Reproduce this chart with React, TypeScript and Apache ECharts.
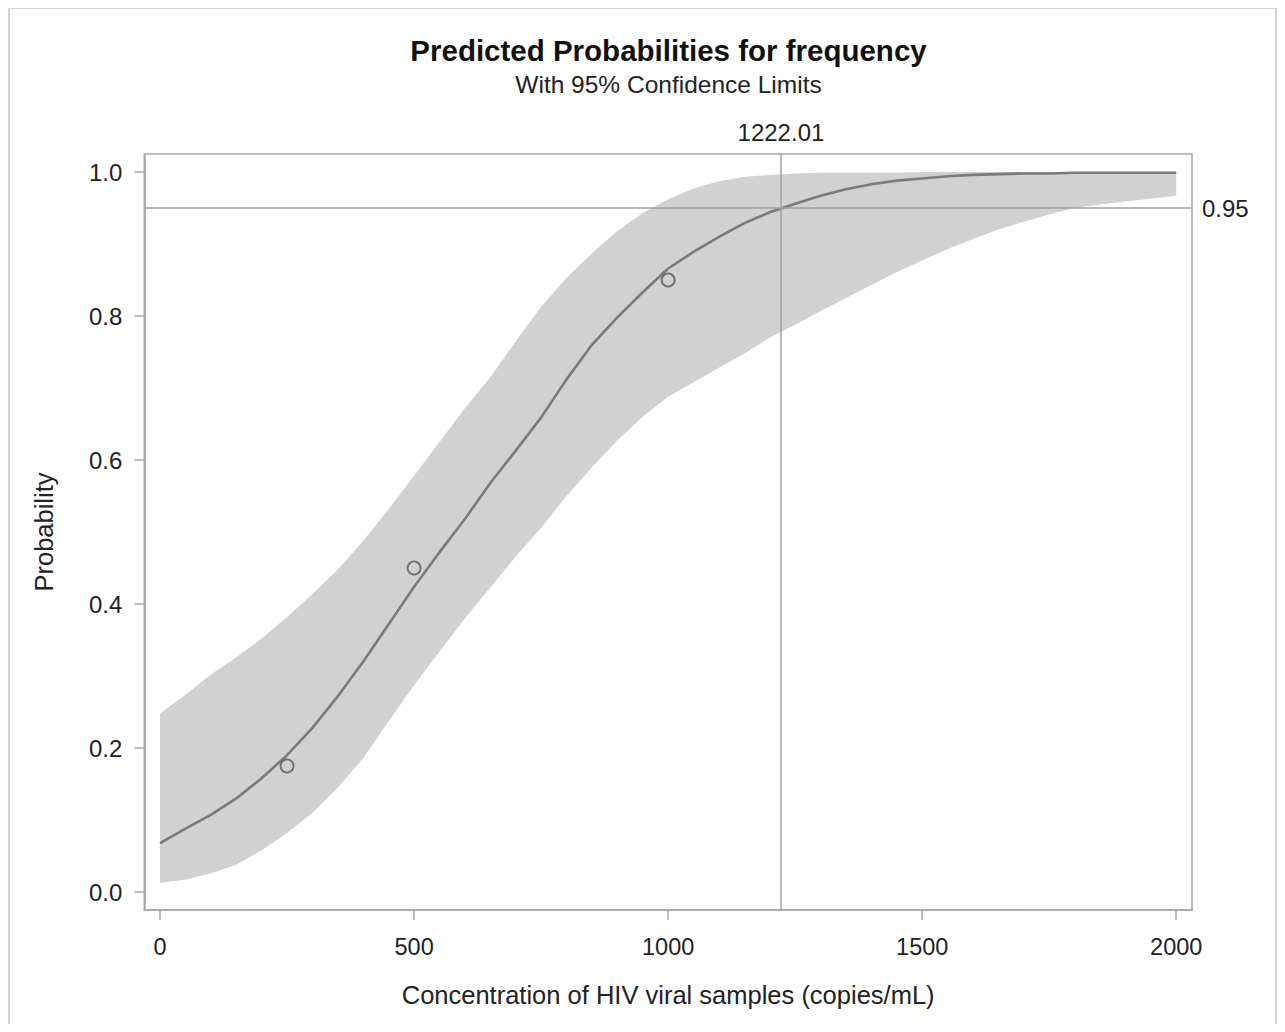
import React, { useEffect, useRef } from "react";
import * as echarts from "echarts";

const titleText = "Predicted Probabilities for frequency";
const subtitleText = "With 95% Confidence Limits";
const xAxisName = "Concentration of HIV viral samples (copies/mL)";
const yAxisName = "Probability";

const xValues = [
  0, 50, 100, 150, 200, 250, 300, 350, 400, 450, 500, 550, 600, 650, 700, 750, 800, 850, 900, 950, 1000,
  1050, 1100, 1150, 1200, 1250, 1300, 1350, 1400, 1450, 1500, 1550, 1600, 1650, 1700, 1750, 1800, 1850,
  1900, 1950, 2000,
];
const predicted = [
  0.068, 0.088, 0.107, 0.13, 0.158, 0.19, 0.228, 0.272, 0.32, 0.372, 0.424, 0.472, 0.518, 0.568, 0.613,
  0.659, 0.712, 0.76, 0.798, 0.833, 0.866, 0.889, 0.91, 0.929, 0.944, 0.956, 0.967, 0.976, 0.983, 0.988,
  0.991, 0.994, 0.996, 0.997, 0.998, 0.998, 0.999, 0.999, 0.999, 0.999, 0.999,
];
const upperCL = [
  0.248, 0.274, 0.302, 0.326, 0.352, 0.382, 0.414, 0.448, 0.488, 0.532, 0.578, 0.625, 0.672, 0.715, 0.765,
  0.813, 0.853, 0.887, 0.918, 0.943, 0.962, 0.977, 0.987, 0.993, 0.996, 0.998, 0.999, 0.999, 0.999, 0.999,
  1.0, 1.0, 1.0, 1.0, 1.0, 1.0, 1.0, 1.0, 1.0, 1.0, 1.0,
];
const lowerCL = [
  0.013, 0.017, 0.026, 0.038, 0.058, 0.082, 0.11, 0.145, 0.186, 0.237, 0.287, 0.334, 0.38, 0.423, 0.466,
  0.506, 0.55, 0.59, 0.627, 0.66, 0.688, 0.708, 0.728, 0.748, 0.77, 0.788, 0.807, 0.825, 0.843, 0.861,
  0.877, 0.893, 0.907, 0.92, 0.931, 0.941, 0.95, 0.955, 0.959, 0.963, 0.967,
];
const observedX = [250, 500, 1000];
const observedP = [0.175, 0.45, 0.85];

const xTicks = [0, 500, 1000, 1500, 2000];
const yTicks = [0, 0.2, 0.4, 0.6, 0.8, 1.0];
const refProbability = 0.95;
const refConcentration = 1222.01;

const FONT = "'Liberation Sans', Arial, sans-serif";
const TEXT = "#222222";
const FRAME = "#a6a6a6";

export default function App() {
  const ref = useRef<HTMLDivElement>(null);

  useEffect(() => {
    if (!ref.current) return;
    const chart = echarts.init(ref.current, undefined, { renderer: "svg" });

    const bandData = xValues.map((x, i) => [x, lowerCL[i], upperCL[i]]);

    const option: any = {
      animation: false,
      backgroundColor: "#ffffff",
      title: [
        {
          text: titleText,
          left: 660.5,
          top: 27,
          textAlign: "center",
          padding: 0,
          textStyle: { fontFamily: FONT, fontSize: 29.5, fontWeight: "bold", color: "#111" },
        },
        {
          text: subtitleText,
          left: 660.5,
          top: 64,
          textAlign: "center",
          padding: 0,
          textStyle: { fontFamily: FONT, fontSize: 24.5, fontWeight: "normal", color: TEXT },
        },
      ],
      graphic: [
        {
          type: "rect",
          shape: { x: 1, y: 0, width: 1267, height: 1040 },
          style: { fill: "none", stroke: "#d4d4d4", lineWidth: 2 },
          silent: true,
          z: -1,
        },
      ],
      grid: {
        left: 136.3,
        right: 85,
        top: 146,
        bottom: 114,
        show: true,
        borderColor: FRAME,
        borderWidth: 1.5,
        backgroundColor: "transparent",
      },
      xAxis: {
        type: "value",
        min: -31,
        max: 2031,
        name: xAxisName,
        nameLocation: "middle",
        nameGap: 72,
        nameTextStyle: { fontFamily: FONT, fontSize: 25.5, color: TEXT },
        axisLine: { show: true, onZero: false, lineStyle: { color: FRAME, width: 1.5 } },
        axisTick: { show: true, length: 10, lineStyle: { color: FRAME, width: 1.5 }, customValues: xTicks },
        axisLabel: {
          fontFamily: FONT,
          fontSize: 23.5,
          color: TEXT,
          margin: 25,
          customValues: xTicks,
          formatter: (v: number) => String(v),
        },
        splitLine: { show: false },
      },
      yAxis: {
        type: "value",
        min: -0.025,
        max: 1.025,
        name: yAxisName,
        nameLocation: "middle",
        nameGap: 87,
        nameTextStyle: { fontFamily: FONT, fontSize: 25.5, color: TEXT },
        axisLine: { show: true, onZero: false, lineStyle: { color: FRAME, width: 1.5 } },
        axisTick: { show: true, length: 10, lineStyle: { color: FRAME, width: 1.5 }, customValues: yTicks },
        axisLabel: {
          fontFamily: FONT,
          fontSize: 24,
          color: TEXT,
          margin: 22,
          customValues: yTicks,
          formatter: (v: number) => v.toFixed(1),
        },
        splitLine: { show: false },
      },
      series: [
        {
          type: "custom",
          name: "95% Confidence Limits",
          data: bandData,
          encode: { x: 0, y: [1, 2] },
          silent: true,
          z: 1,
          renderItem: (params: any, api: any) => {
            if (params.dataIndex !== 0) return null;
            const pts: number[][] = [];
            for (let i = 0; i < xValues.length; i++) pts.push(api.coord([xValues[i], upperCL[i]]));
            for (let i = xValues.length - 1; i >= 0; i--) pts.push(api.coord([xValues[i], lowerCL[i]]));
            return {
              type: "polygon",
              shape: { points: pts },
              style: { fill: "#d1d1d1", stroke: "none" },
            };
          },
        },
        {
          type: "line",
          name: "Reference",
          data: [],
          z: 2,
          markLine: {
            silent: true,
            symbol: ["none", "none"],
            lineStyle: { color: "#a0a0a0", width: 1.5, type: "solid" },
            label: { fontFamily: FONT, fontSize: 24, color: TEXT },
            data: [
              {
                yAxis: refProbability,
                label: { show: true, position: "end", distance: 10, formatter: "0.95" },
              },
              {
                xAxis: refConcentration,
                label: { show: true, position: "end", distance: 10, formatter: "1222.01" },
              },
            ],
          },
        },
        {
          type: "line",
          name: "Predicted",
          data: xValues.map((x, i) => [x, predicted[i]]),
          showSymbol: false,
          symbol: "none",
          z: 3,
          lineStyle: { color: "#7a7a7a", width: 2.6 },
        },
        {
          type: "scatter",
          name: "Observed",
          data: observedX.map((x, i) => [x, observedP[i]]),
          symbol: "circle",
          symbolSize: 13,
          z: 4,
          itemStyle: { color: "rgba(0,0,0,0)", borderColor: "#555555", borderWidth: 1.8 },
        },
      ],
    };

    chart.setOption(option);
    return () => chart.dispose();
  }, []);

  return <div ref={ref} style={{ width: 1269, height: 1016 }} />;
}
